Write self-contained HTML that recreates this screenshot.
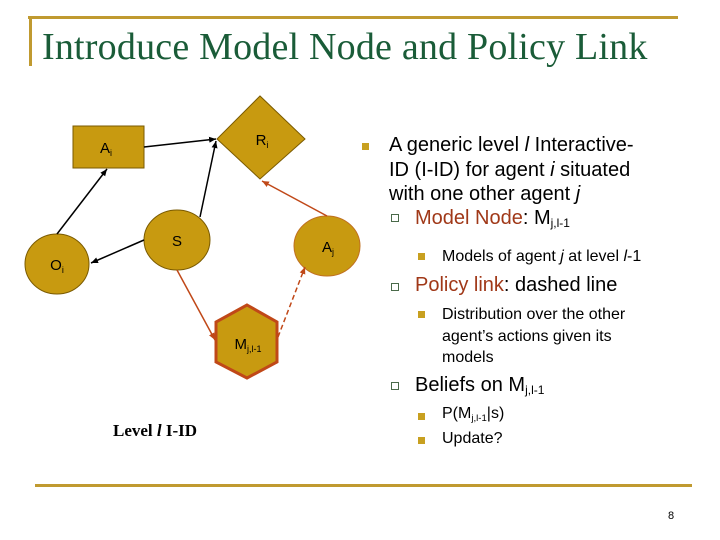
<!DOCTYPE html>
<html><head><meta charset="utf-8"><style>
body{margin:0;width:720px;height:540px;background:#fff;position:relative;overflow:hidden;font-family:"Liberation Sans",sans-serif}
.t{position:absolute;white-space:nowrap;color:#000}
.b{position:absolute;width:7px;height:7px;background:#c8a020}
.q{position:absolute;width:6px;height:6px;border:1px solid #4a6a4a;background:#fff}
sub{font-size:60%;vertical-align:-3px}
.r{color:#a03818}
</style></head><body>
<div style="position:absolute;left:28px;top:16px;width:650px;height:3px;background:#c09a30"></div>
<div style="position:absolute;left:29px;top:16px;width:3px;height:50px;background:#c09a30"></div>
<div class="t" style="left:42px;top:25px;font-family:'Liberation Serif',serif;font-size:38px;letter-spacing:0.2px;color:#1a5c38">Introduce Model Node and Policy Link</div>
<div style="position:absolute;left:35px;top:484px;width:657px;height:3px;background:#c09a30"></div>
<div class="t" style="left:668px;top:510px;font-size:11px">8</div>

<svg width="720" height="540" style="position:absolute;left:0;top:0">
<defs>
<marker id="k" markerWidth="8" markerHeight="8" refX="7" refY="4" orient="auto" markerUnits="userSpaceOnUse"><path d="M0,1 L7,4 L0,7z" fill="#000"/></marker>
<marker id="o" markerWidth="8" markerHeight="8" refX="7" refY="4" orient="auto" markerUnits="userSpaceOnUse"><path d="M0,1 L7,4 L0,7z" fill="#c04818"/></marker>
</defs>
<g fill="#c89a10" stroke="#7a5a00" stroke-width="1">
<rect x="73" y="126" width="71" height="42"/>
<polygon points="217,139 260,96 305,139 260,179"/>
<ellipse cx="177" cy="240" rx="33" ry="30"/>
<ellipse cx="57" cy="264" rx="32" ry="30"/>
<ellipse cx="327" cy="246" rx="33" ry="30" stroke="#c07020"/>
<polygon points="247,305 277,322 277,362 247,378 216,362 216,322" stroke="#c04818" stroke-width="3"/>
</g>
<g stroke="#000" stroke-width="1.5" fill="none">
<line x1="144" y1="147" x2="216" y2="139" marker-end="url(#k)"/>
<line x1="57" y1="234" x2="107" y2="169" marker-end="url(#k)"/>
<line x1="144" y1="240" x2="91" y2="263" marker-end="url(#k)"/>
<line x1="200" y1="217" x2="216" y2="141" marker-end="url(#k)"/>
</g>
<g stroke="#c04818" stroke-width="1.5" fill="none">
<line x1="327" y1="216" x2="262" y2="181" marker-end="url(#o)"/>
<line x1="177" y1="270" x2="215" y2="340" marker-end="url(#o)"/>
<line x1="278" y1="337" x2="305" y2="267" stroke-dasharray="5,3" marker-end="url(#o)"/>
</g>
<g font-family="Liberation Sans,sans-serif" font-size="15" fill="#000" text-anchor="middle">
<text x="106" y="153">A<tspan font-size="9" dy="3">i</tspan></text>
<text x="262" y="145">R<tspan font-size="9" dy="3">i</tspan></text>
<text x="177" y="246">S</text>
<text x="57" y="270">O<tspan font-size="9" dy="3">i</tspan></text>
<text x="328" y="252">A<tspan font-size="9" dy="3">j</tspan></text>
<text x="248" y="349">M<tspan font-size="9" dy="3">j,l-1</tspan></text>
</g>
</svg>
<div class="t" style="left:113px;top:421px;font-family:'Liberation Serif',serif;font-weight:bold;font-size:17px">Level <i>l</i> I-ID</div>

<div class="b" style="left:362px;top:143px"></div>
<div class="t" style="left:389px;top:133px;font-size:20px;line-height:24.5px">A generic level <i>l</i> Interactive-<br>ID (I-ID) for agent <i>i</i> situated<br>with one other agent <i>j</i></div>
<div class="q" style="left:391px;top:214px"></div>
<div class="t" style="left:415px;top:207px;font-size:20px"><span class="r">Model Node</span>: M<sub>j,l-1</sub></div>
<div class="b" style="left:418px;top:253px"></div>
<div class="t" style="left:442px;top:248px;font-size:16px">Models of agent <i>j</i> at level <i>l</i>-1</div>
<div class="q" style="left:391px;top:283px"></div>
<div class="t" style="left:415px;top:274px;font-size:20px"><span class="r">Policy link</span>: dashed line</div>
<div class="b" style="left:418px;top:311px"></div>
<div class="t" style="left:442px;top:304px;font-size:16px;line-height:21.5px">Distribution over the other<br>agent’s actions given its<br>models</div>
<div class="q" style="left:391px;top:382px"></div>
<div class="t" style="left:415px;top:374px;font-size:20px">Beliefs on M<sub>j,l-1</sub></div>
<div class="b" style="left:418px;top:413px"></div>
<div class="t" style="left:442px;top:405px;font-size:16px">P(M<sub>j,l-1</sub>|s)</div>
<div class="b" style="left:418px;top:437px"></div>
<div class="t" style="left:442px;top:430px;font-size:16px">Update?</div>
</body></html>
